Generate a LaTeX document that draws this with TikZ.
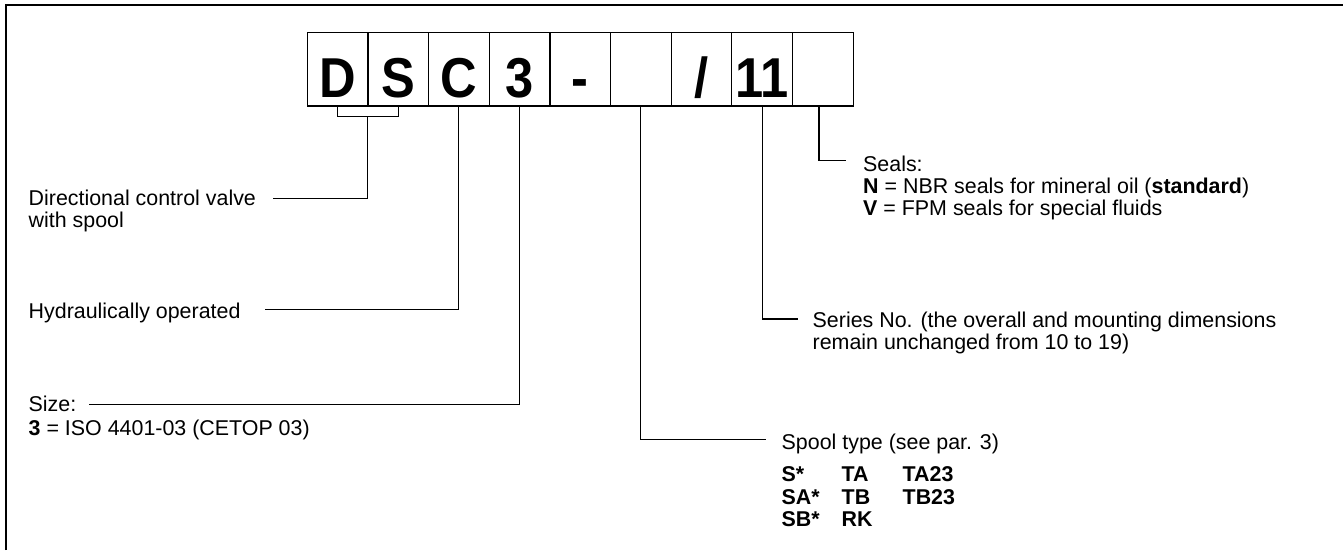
\documentclass[tikz,border=0pt]{standalone}
\usepackage{fontspec}
\setmainfont{Liberation Sans}
\newfontfamily\codefont[FakeStretch=0.9]{Liberation Sans}
\usetikzlibrary{positioning, calc}

\tikzset{
  codebox/.style={draw, line width=0.35pt, inner sep=0pt, outer sep=0pt,
    minimum width=0.6065cm, minimum height=0.733cm,
    text height=0.552cm, text depth=0pt,
    font=\codefont\bfseries\fontsize{16}{16}\selectfont},
  lbl/.style={inner sep=0pt, anchor=base west, font=\fontsize{6.09}{6.4}\selectfont},
  leader/.style={line width=0.3pt},
  frame/.style={line width=0.6pt},
}

\begin{document}
\begin{tikzpicture}[scale=1.0]
  \useasboundingbox (0,0) rectangle (13.43,-5.50);
  % page frame (cut off at right and bottom)
  \draw[frame] (0.06,-5.50) -- (0.06,-0.05) -- (13.43,-0.05);
  % ordering code boxes
  \node[codebox] (b1) at (3.376,-0.694) {D};
  \node[codebox, right=0cm of b1] (b2) {S};
  \node[codebox, right=0cm of b2] (b3) {C};
  \node[codebox, right=0cm of b3] (b4) {3};
  \node[codebox, right=0cm of b4] (b5) {-};
  \node[codebox, right=0cm of b5] (b6) {};
  \node[codebox, right=0cm of b6] (b7) {/};
  \node[codebox, right=0cm of b7] (b8) {11};
  \node[codebox, right=0cm of b8] (b9) {};
  % left hand labels
  \node[lbl] (dcv) at (0.28,-2.05) {Directional control valve};
  \node[lbl] (dcv2) at ([yshift=-0.225cm]dcv.base west) {with spool};
  \node[lbl] (hyd) at (0.28,-3.183) {Hydraulically operated};
  \node[lbl] (size) at (0.28,-4.117) {Size:};
  \node[lbl] (size2) at ([yshift=-0.233cm]size.base west) {\textbf{3} = ISO 4401-03 (CETOP 03)};
  % right hand labels
  \node[lbl] (spool) at (7.81,-4.49) {Spool type (see par. 3)};
  \node[lbl, font=\fontsize{6.09}{6.35}\selectfont\bfseries] (spooltab) at ([yshift=-0.327cm]spool.base west)
    {\begin{tabular}[t]{@{}p{0.6cm}@{}p{0.61cm}@{}l@{}}
      S* & TA & TA23\\
      SA* & TB & TB23\\
      SB* & RK &
    \end{tabular}};
  \node[lbl] (series) at (8.12,-3.27) {Series No. (the overall and mounting dimensions};
  \node[lbl] (series2) at ([yshift=-0.225cm]series.base west) {remain unchanged from 10 to 19)};
  \node[lbl] (seals) at (8.625,-1.71) {Seals:};
  \node[lbl] (sealsN) at ([yshift=-0.223cm]seals.base west) {\textbf{N} = NBR seals for mineral oil (\textbf{standard})};
  \node[lbl] (sealsV) at ([yshift=-0.223cm]sealsN.base west) {\textbf{V} = FPM seals for special fluids};
  % bracket joining D and S
  \draw[leader] (b1.south) -- ++(0,-0.1) coordinate (dsl) -| (b2.south);
  \coordinate (dsmid) at ($(dsl)!0.5!(b2.south |- dsl)$);
  % leader lines
  \draw[leader] (dsmid) |- ([xshift=0.162cm,yshift=0.067cm]dcv.base east);
  \draw[leader] (b3.south) |- ([xshift=0.238cm,yshift=0.09cm]hyd.base east);
  \draw[leader] (b4.south) |- ([xshift=0.124cm,yshift=0.074cm]size.base east);
  \draw[leader] (b6.south) |- ([xshift=-0.152cm,yshift=0.097cm]spool.base west);
  \draw[leader] (b8.south) |- ([xshift=-0.143cm,yshift=0.08cm]series.base west);
  \draw[leader] ([xshift=-0.038cm]b9.south) |- ([xshift=-0.168cm,yshift=0.103cm]seals.base west);
\end{tikzpicture}
\end{document}
